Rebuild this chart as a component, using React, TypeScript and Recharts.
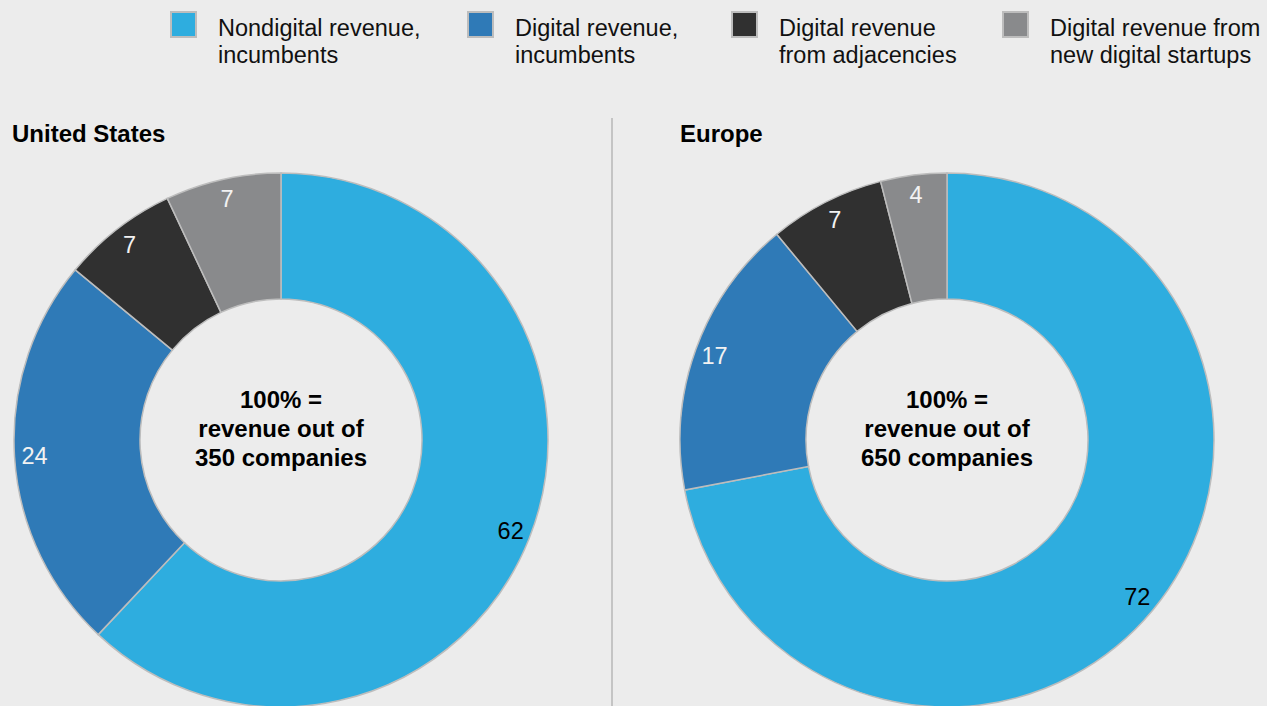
import { PieChart, Pie, Cell } from 'recharts'

const categories = [
  ['Nondigital revenue,', 'incumbents'],
  ['Digital revenue,', 'incumbents'],
  ['Digital revenue', 'from adjacencies'],
  ['Digital revenue from', 'new digital startups'],
]
const colors = ['#2eaddf', '#2f7ab7', '#303030', '#898a8c']
const labelColors = ['#000000', '#f2f2f2', '#f2f2f2', '#f2f2f2']

const usValues = [62, 24, 7, 7]
const europeValues = [72, 17, 7, 4]

const usCenter = ['100% =', 'revenue out of', '350 companies']
const europeCenter = ['100% =', 'revenue out of', '650 companies']

const legendX = [170, 467, 731, 1002]

const FONT = '"Liberation Sans", Arial, sans-serif'
const RADIAN = Math.PI / 180

function toData(values: number[]) {
  return values.map((v, i) => ({ name: categories[i].join(' '), value: v }))
}

function renderSliceLabel(props: any) {
  const { cx, cy, midAngle, outerRadius, value, index } = props
  const r = outerRadius - 20
  const x = cx + r * Math.cos(-midAngle * RADIAN)
  const y = cy + r * Math.sin(-midAngle * RADIAN)
  return (
    <text
      x={x}
      y={y}
      fill={labelColors[index]}
      textAnchor="middle"
      dominantBaseline="central"
      style={{ fontFamily: FONT, fontSize: 23.5 }}
    >
      {value}
    </text>
  )
}

function CenterText({ cx, lines }: { cx: number; lines: string[] }) {
  return (
    <div
      style={{
        position: 'absolute',
        left: cx - 120,
        top: 385,
        width: 240,
        textAlign: 'center',
        fontSize: 24,
        lineHeight: '29px',
        fontWeight: 700,
        color: '#000',
      }}
    >
      {lines.map((l, i) => (
        <div key={i}>{l}</div>
      ))}
    </div>
  )
}

export default function App() {
  return (
    <div
      style={{
        position: 'relative',
        width: 1267,
        height: 706,
        background: '#ececec',
        overflow: 'hidden',
        fontFamily: FONT,
      }}
    >
      <style>{'body { margin: 0; }'}</style>

      {categories.map((c, i) => (
        <div key={i} style={{ position: 'absolute', left: legendX[i], top: 11 }}>
          <div
            style={{
              position: 'absolute',
              left: 0,
              top: 0,
              width: 23,
              height: 23,
              background: colors[i],
              border: '2px solid #bdbdbd',
            }}
          />
          <div
            style={{
              position: 'absolute',
              left: 48,
              top: 4,
              fontSize: 23.5,
              lineHeight: '27px',
              color: '#111',
              whiteSpace: 'nowrap',
            }}
          >
            {c[0]}
            <br />
            {c[1]}
          </div>
        </div>
      ))}

      <div
        style={{ position: 'absolute', left: 12, top: 120, fontSize: 24, fontWeight: 700, color: '#000' }}
      >
        United States
      </div>
      <div
        style={{ position: 'absolute', left: 680, top: 120, fontSize: 24, fontWeight: 700, color: '#000' }}
      >
        Europe
      </div>
      <div
        style={{ position: 'absolute', left: 611, top: 118, width: 2, height: 600, background: '#c4c4c4' }}
      />

      <div style={{ position: 'absolute', left: 0, top: 0 }}>
        <PieChart width={1267} height={706} margin={{ top: 0, right: 0, bottom: 0, left: 0 }}>
          <Pie
            data={toData(usValues)}
            dataKey="value"
            cx={281}
            cy={440}
            innerRadius={141}
            outerRadius={267}
            startAngle={90}
            endAngle={-270}
            stroke="#bdbdbd"
            strokeWidth={1.5}
            label={renderSliceLabel}
            labelLine={false}
            isAnimationActive={false}
          >
            {usValues.map((_, i) => (
              <Cell key={i} fill={colors[i]} />
            ))}
          </Pie>
          <Pie
            data={toData(europeValues)}
            dataKey="value"
            cx={947}
            cy={440}
            innerRadius={141}
            outerRadius={267}
            startAngle={90}
            endAngle={-270}
            stroke="#bdbdbd"
            strokeWidth={1.5}
            label={renderSliceLabel}
            labelLine={false}
            isAnimationActive={false}
          >
            {europeValues.map((_, i) => (
              <Cell key={i} fill={colors[i]} />
            ))}
          </Pie>
        </PieChart>
      </div>

      <CenterText cx={281} lines={usCenter} />
      <CenterText cx={947} lines={europeCenter} />
    </div>
  )
}
